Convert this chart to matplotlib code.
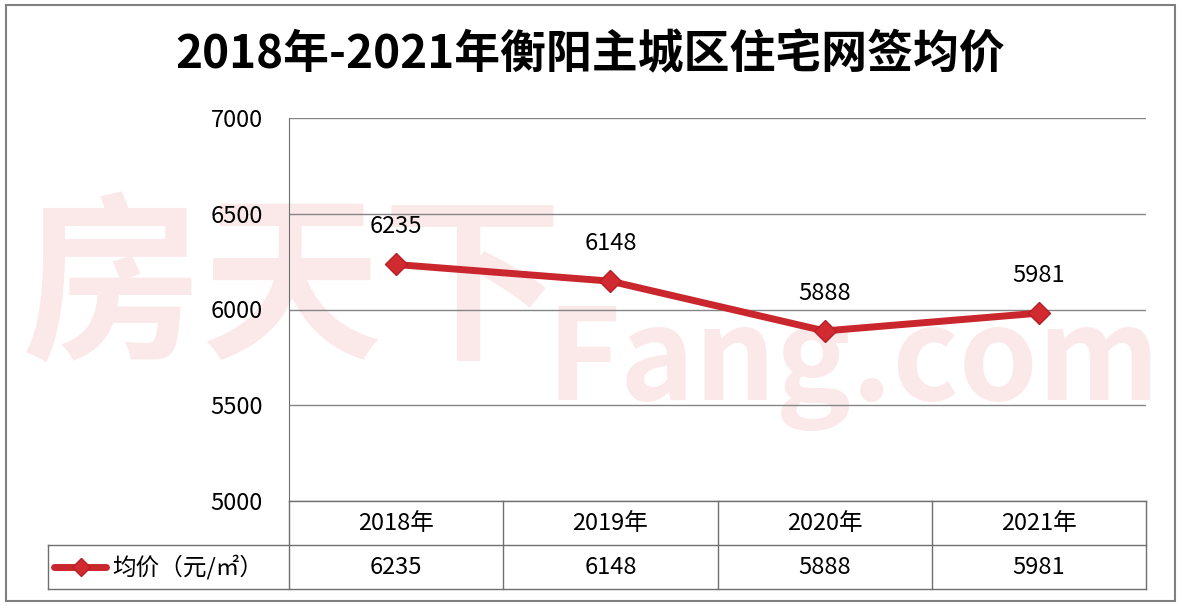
import matplotlib
matplotlib.use('Agg')
import matplotlib.pyplot as plt
from matplotlib.transforms import blended_transform_factory
from matplotlib.patches import Rectangle

plt.rcParams['font.family'] = ['Noto Sans CJK SC', 'DejaVu Sans']

years = ['2018年', '2019年', '2020年', '2021年']
prices = [6235, 6148, 5888, 5981]
yticks = [5000, 5500, 6000, 6500, 7000]
title = '2018年-2021年衡阳主城区住宅网签均价'
seriesName = '均价（元/㎡）'

lineColor = '#c9272d'
gridColor = '#858585'
fs = 17

fig = plt.figure(figsize=(11.8, 6.06), dpi=100)
fig.patch.set_facecolor('white')

# outer frame
fig.patches.append(Rectangle((6 / 1180, 5 / 606), 1169 / 1180, 596 / 606, transform=fig.transFigure,
                             fill=False, edgecolor='#7f7f7f', linewidth=1.5))

# faint watermark (behind the axes)
wm = '#fbe9e9'
fig.text(22 / 1180, 1 - 292 / 606, '房天下', fontsize=130, fontweight='bold', color=wm,
         ha='left', va='center', zorder=-5)
fig.text(1160 / 1180, 1 - 400 / 606, 'Fang.com', fontsize=91, fontweight='bold', color=wm,
         ha='right', va='baseline', zorder=-5)

fig.text(0.5, 1 - 55 / 606, title, fontsize=33, fontweight='bold', ha='center', va='center')

ax = fig.add_axes([289 / 1180, 1 - 501 / 606, 857 / 1180, 383 / 606])
ax.patch.set_alpha(0)
x = list(range(len(years)))
ax.plot(x, prices, color=lineColor, linewidth=5, marker='D', markersize=11,
        markeredgecolor='#b51f25', markerfacecolor='#d12a30', zorder=3)
for xi, v in zip(x, prices):
    ax.annotate(str(v), (xi, v), xytext=(0, 19), textcoords='offset points',
                ha='center', va='bottom', fontsize=fs)

ax.set_xlim(-0.5, len(years) - 0.5)
ax.set_ylim(5000, 7000)
ax.set_yticks(yticks)
ax.set_yticklabels([str(t) for t in yticks], fontsize=fs)
ax.tick_params(axis='y', length=0, pad=19)
ax.set_xticks([])
ax.yaxis.grid(True, color=gridColor, linewidth=1)
ax.set_axisbelow(True)
for s in ['top', 'right', 'bottom']:
    ax.spines[s].set_visible(False)
ax.spines['left'].set_color('#6f6f6f')

# data table below the axes
tr = blended_transform_factory(ax.transData, ax.transAxes)
rowMid = -44 / 383
rowBot = -88 / 383
labelLeft = -241 / 857
lc = '#6f6f6f'
ax.plot([0, 1], [0, 0], transform=ax.transAxes, color=lc, lw=1, clip_on=False)
ax.plot([labelLeft, 1], [rowMid, rowMid], transform=ax.transAxes, color=lc, lw=1, clip_on=False)
ax.plot([labelLeft, 1], [rowBot, rowBot], transform=ax.transAxes, color=lc, lw=1, clip_on=False)
ax.plot([labelLeft, labelLeft], [rowMid, rowBot], transform=ax.transAxes, color=lc, lw=1, clip_on=False)
ax.plot([0, 0], [0, rowBot], transform=ax.transAxes, color=lc, lw=1, clip_on=False)
for i in range(len(years)):
    ax.plot([i + 0.5, i + 0.5], [0, rowBot], transform=tr, color=lc, lw=1, clip_on=False)
for xi, yr, v in zip(x, years, prices):
    ax.text(xi, rowMid / 2, yr, transform=tr, ha='center', va='center', fontsize=fs)
    ax.text(xi, (rowMid + rowBot) / 2, str(v), transform=tr, ha='center', va='center', fontsize=fs)

# legend key in row header
keyY = (rowMid + rowBot) / 2
ax.plot([labelLeft + 6 / 857, labelLeft + 58 / 857], [keyY, keyY], transform=ax.transAxes,
        color=lineColor, lw=5, solid_capstyle='round', clip_on=False)
ax.plot([labelLeft + 33 / 857], [keyY], transform=ax.transAxes, marker='D', markersize=9,
        color='#d12a30', markeredgecolor='#b51f25', clip_on=False)
ax.text(labelLeft + 64 / 857, keyY, seriesName, transform=ax.transAxes, ha='left', va='center',
        fontsize=fs)

fig.savefig('out.png', dpi=100)
